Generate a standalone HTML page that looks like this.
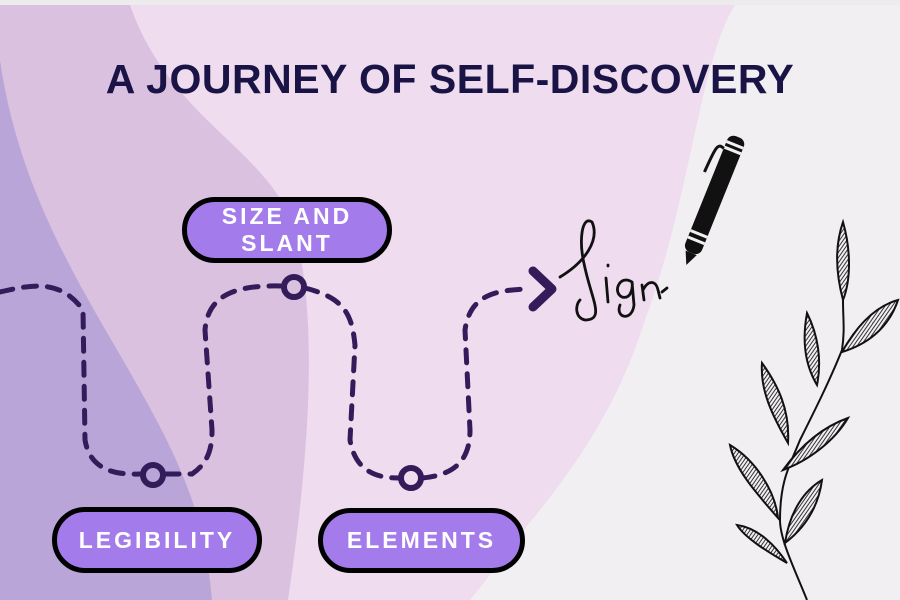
<!DOCTYPE html>
<html><head><meta charset="utf-8"><style>
body{margin:0;width:900px;height:600px;overflow:hidden;font-family:"Liberation Sans",sans-serif;}
.pill{position:absolute;background:#a47bea;border:5px solid #000;border-radius:40px;box-sizing:border-box;color:#fff;font-weight:bold;letter-spacing:3px;font-size:23px;text-align:center;display:flex;align-items:center;justify-content:center;line-height:27px;}
</style></head><body>
<svg width="900" height="600" style="position:absolute;left:0;top:0">
<defs>
<pattern id="h" width="3" height="3" patternUnits="userSpaceOnUse" patternTransform="rotate(35)">
<rect width="3" height="3" fill="#f2eff3"/><rect width="1" height="3" fill="#333"/></pattern>
</defs>
<rect width="900" height="600" fill="#f2eff3"/>
<path d="M0,5 L735,5 C700,60 690,200 645,320 C620,400 580,460 540,510 C515,540 495,570 470,600 L0,600 Z" fill="#efdcee"/>
<path d="M0,5 L130,5 C170,120 270,150 295,230 C318,320 310,450 288,600 L0,600 Z" fill="#dac1e0"/>
<path d="M0,60 C20,200 90,300 140,390 C185,470 205,520 212,600 L0,600 Z" fill="#b9a5d8"/>
<rect width="900" height="5" fill="#ececec"/>
<g fill="none" stroke="#341c5a" stroke-width="5" stroke-linecap="round">
<path d="M0,292 C30,285 60,278 83,310 L85,440 C90,470 115,475 140,474" stroke-dasharray="13,11"/>
<path d="M166,474 L192,474 C210,462 212,445 212,430 L205,330 C208,295 235,285 281,286" stroke-dasharray="13,11"/>
<path d="M305,288 C345,298 352,315 355,345 L350,440 C355,470 375,478 398,478" stroke-dasharray="13,11"/>
<path d="M422,478 C455,475 470,460 470,430 L465,330 C470,295 495,290 528,289" stroke-dasharray="13,11"/>
<circle cx="153" cy="475" r="10" stroke-width="6"/>
<circle cx="294" cy="287" r="10" stroke-width="6"/>
<circle cx="411" cy="478" r="10" stroke-width="6"/>
<path d="M533,271 L552,289 L533,307" stroke-width="9" stroke-linejoin="round"/>
</g>
<g fill="none" stroke="#111" stroke-width="2.8" stroke-linecap="round">
<path d="M560,277 C585,262 600,240 592,222 C582,215 578,240 585,268 C592,300 605,320 585,320 C575,318 575,305 580,300"/>
<path d="M606,278 L608,302 M608,265 l0,1"/>
<path d="M632,282 C620,274 612,292 622,297 C632,300 633,285 632,282 L634,305 C632,322 615,318 620,305"/>
<path d="M642,285 L644,300 M643,290 C648,280 656,280 658,290 L660,298 M662,292 l5,-4"/>
</g>
<g transform="translate(738,137) rotate(22)">
<rect x="-9" y="0" width="18" height="125" rx="7" fill="#111"/>
<rect x="-9" y="7" width="18" height="3" fill="#f2eff3"/>
<rect x="-9" y="13" width="18" height="3" fill="#f2eff3"/>
<rect x="-9" y="103" width="18" height="3" fill="#f2eff3"/>
<rect x="-9" y="110" width="18" height="3" fill="#f2eff3"/>
<path d="M-6,125 L6,125 L0,138 Z" fill="#111"/>
<path d="M-9,16 C-17,12 -17,20 -18,45" stroke="#111" stroke-width="3" fill="none"/>
</g>
<g stroke="#111" stroke-width="2" fill="url(#h)">
<path d="M807,600 C795,570 780,540 780,520 C780,480 790,465 800,440 C815,410 830,380 842,350 C845,330 843,320 843,300" fill="none"/>
<path d="M843,300 C835,270 835,245 843,222 C851,250 851,280 843,300 Z"/>
<path d="M842,352 C860,320 880,305 898,300 C888,330 865,345 842,352 Z"/>
<path d="M817,385 C805,365 802,340 807,313 C818,335 822,360 817,385 Z"/>
<path d="M788,443 C772,415 760,390 762,363 C778,385 790,410 788,443 Z"/>
<path d="M783,470 C805,440 828,425 848,418 C835,440 810,460 783,470 Z"/>
<path d="M778,518 C758,495 735,470 730,445 C755,460 775,490 778,518 Z"/>
<path d="M785,543 C790,510 805,490 822,480 C818,510 802,530 785,543 Z"/>
<path d="M787,563 C768,552 745,538 737,525 C758,528 775,545 787,563 Z"/>
</g>
</svg>
<div style="position:absolute;left:0;top:56px;width:900px;text-align:center;font-size:41px;font-weight:bold;color:#1a1446;letter-spacing:0.5px">A JOURNEY OF SELF-DISCOVERY</div>
<div class="pill" style="left:182px;top:197px;width:210px;height:66px">SIZE AND<br>SLANT</div>
<div class="pill" style="left:52px;top:507px;width:210px;height:66px">LEGIBILITY</div>
<div class="pill" style="left:318px;top:508px;width:207px;height:65px">ELEMENTS</div>
</body></html>
